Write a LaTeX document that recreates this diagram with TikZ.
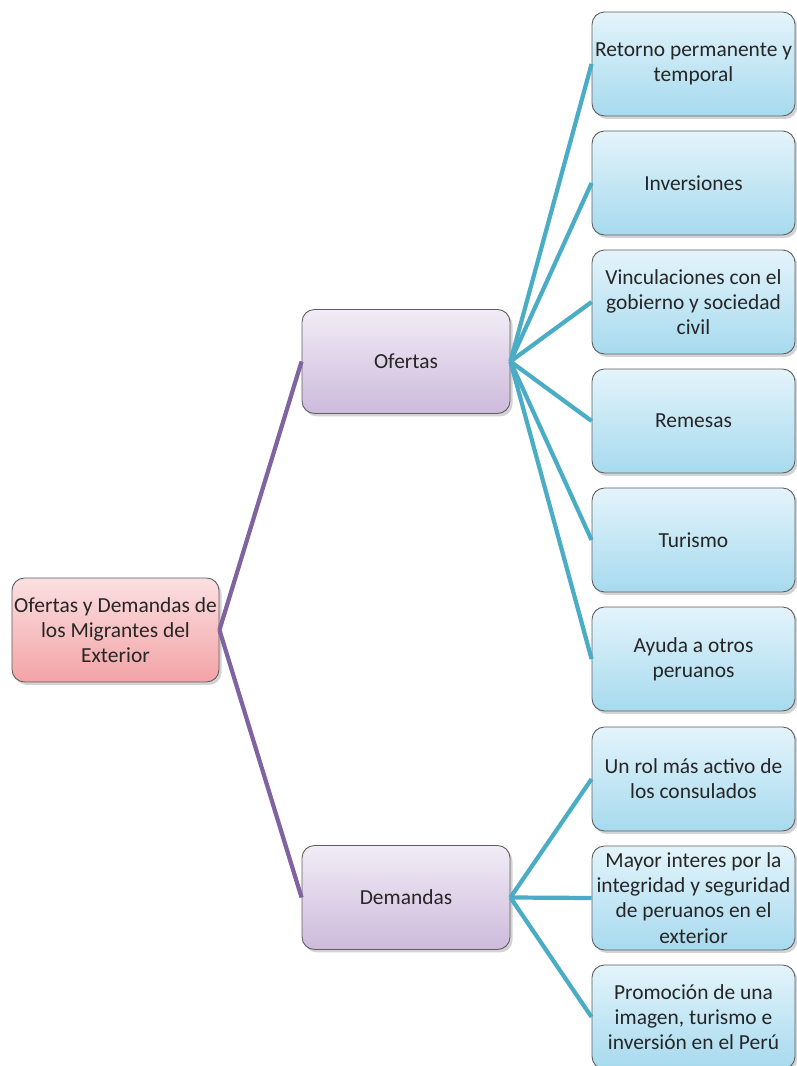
\documentclass[tikz,border=0pt]{standalone}
\usepackage{fontspec}
\setmainfont{Carlito}
\usetikzlibrary{shadows}
\definecolor{mpurple}{HTML}{8064A2}
\definecolor{mcyan}{HTML}{4BACC6}
\definecolor{mtext}{HTML}{262626}
\definecolor{mborder}{HTML}{5F5F5F}
\definecolor{rtop}{HTML}{FBE0E1}
\definecolor{rbot}{HTML}{F3A3A6}
\definecolor{ptop}{HTML}{F1ECF6}
\definecolor{pbot}{HTML}{CDBADB}
\definecolor{ctop}{HTML}{E4F4FB}
\definecolor{cbot}{HTML}{A6DAEE}
\begin{document}
\begin{tikzpicture}
    \tikzset{bx/.style={
      rectangle,
      rounded corners=2.5mm,
      draw=mborder,
      line width=0.5pt,
      minimum width=4.1cm,
      minimum height=2.08cm,
      inner sep=1pt,
      align=center,
      text=mtext,
      font=\fontsize{12.2}{14.3}\selectfont,
      drop shadow={opacity=0.35, shadow xshift=0.05cm, shadow yshift=-0.06cm}},
      rootbx/.style={bx, minimum width=4.14cm, top color=rtop, bottom color=rbot},
      midbx/.style={bx, minimum width=4.16cm, top color=ptop, bottom color=pbot},
      leafbx/.style={bx, minimum width=4.06cm, top color=ctop, bottom color=cbot},
      ln/.style={line width=2.4pt}}
    \useasboundingbox (0, 0) rectangle (15.94, 21.32);
    \node[rootbx] at (2.31, 8.72) (root) {Ofertas y Demandas de\\ los Migrantes del\\ Exterior};
    \node[midbx] at (8.12, 14.09) (ofe) {Ofertas};
    \node[midbx] at (8.12, 3.37) (dem) {Demandas};
    \node[leafbx] at (13.87, 20.04) (0) {Retorno permanente y\\ temporal};
    \node[leafbx] at (13.87, 17.66) (1) {Inversiones};
    \node[leafbx] at (13.87, 15.28) (2) {Vinculaciones con el\\ gobierno y sociedad\\ civil};
    \node[leafbx] at (13.87, 12.90) (3) {Remesas};
    \node[leafbx] at (13.87, 10.52) (4) {Turismo};
    \node[leafbx] at (13.87, 8.14) (5) {Ayuda a otros\\ peruanos};
    \node[leafbx] at (13.87, 5.74) (6) {Un rol más activo de\\ los consulados};
    \node[leafbx] at (13.87, 3.36) (7) {Mayor interes por la\\ integridad y seguridad\\ de peruanos en el\\ exterior};
    \node[leafbx] at (13.87, 0.98) (8) {Promoción de una\\ imagen, turismo e\\ inversión en el Perú};
    \draw[ln, mpurple] (root.east) -- (ofe.west);
    \draw[ln, mpurple] (root.east) -- (dem.west);
    \draw[ln, mcyan] (ofe.east) -- (0.west);
    \draw[ln, mcyan] (ofe.east) -- (1.west);
    \draw[ln, mcyan] (ofe.east) -- (2.west);
    \draw[ln, mcyan] (ofe.east) -- (3.west);
    \draw[ln, mcyan] (ofe.east) -- (4.west);
    \draw[ln, mcyan] (ofe.east) -- (5.west);
    \draw[ln, mcyan] (dem.east) -- (6.west);
    \draw[ln, mcyan] (dem.east) -- (7.west);
    \draw[ln, mcyan] (dem.east) -- (8.west);
\end{tikzpicture}
\end{document}
